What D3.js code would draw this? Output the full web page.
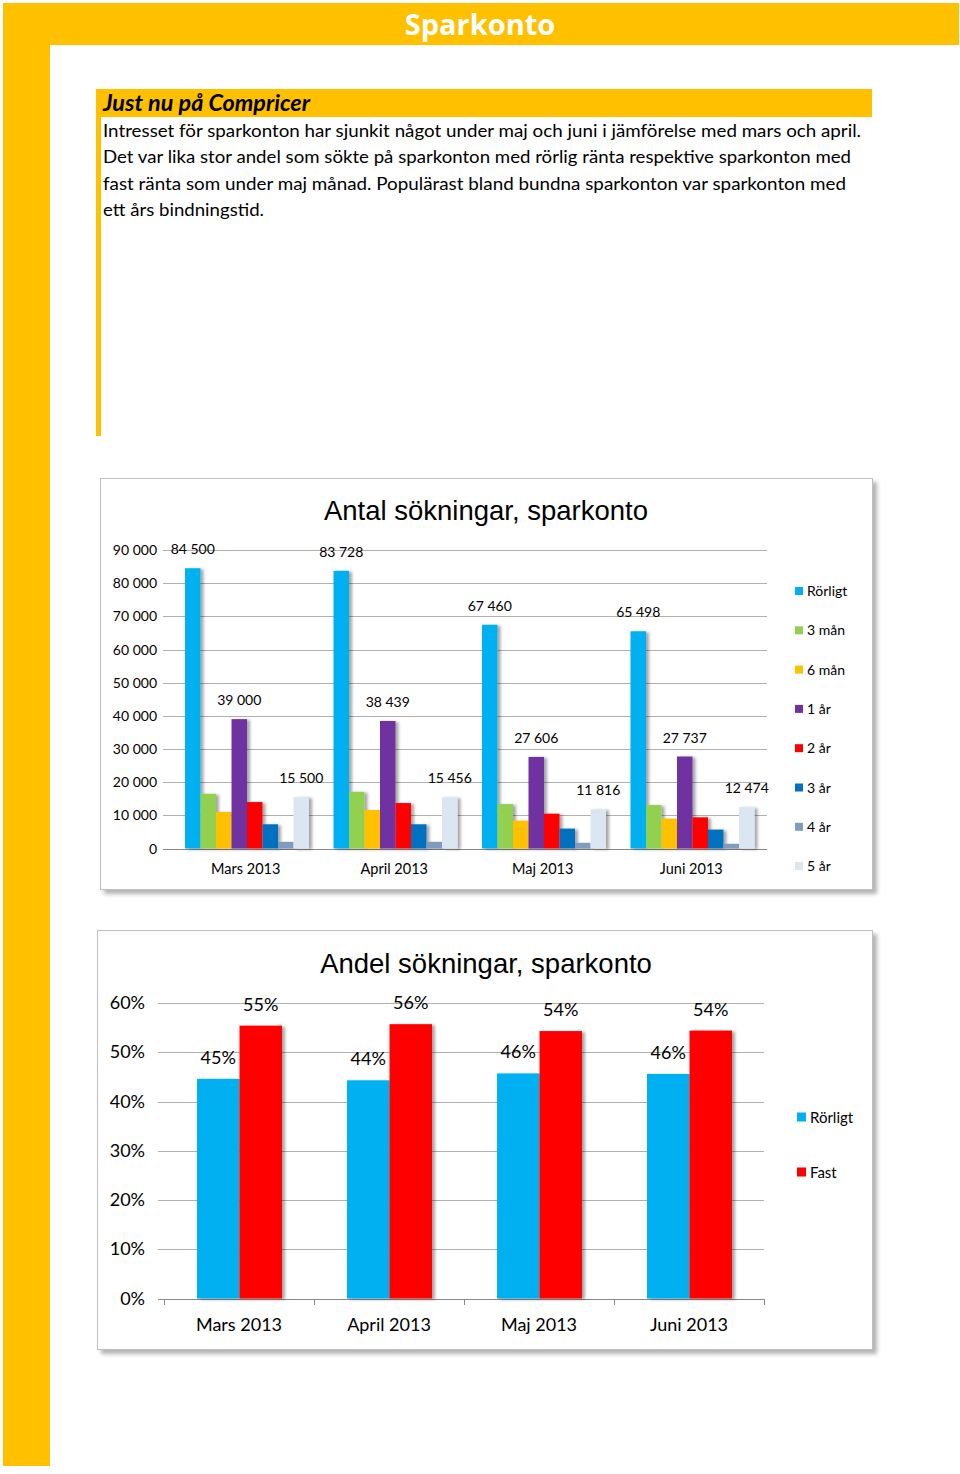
<!DOCTYPE html>
<html>
<head>
<meta charset="utf-8">
<script src="https://cdn.jsdelivr.net/npm/d3@7"></script>
<style>
  html, body { margin: 0; padding: 0; background: #fff; }
  svg { display: block; }
</style>
</head>
<body>
<svg id="page" width="960" height="1474"></svg>
<script>
// ---------- DATA ----------
const pageTitle = "Sparkonto";
const boxHeading = "Just nu på Compricer";
const boxLines = [
  "Intresset för sparkonton har sjunkit något under maj och juni i jämförelse med mars och april.",
  "Det var lika stor andel som sökte på sparkonton med rörlig ränta respektive sparkonton med",
  "fast ränta som under maj månad. Populärast bland bundna sparkonton var sparkonton med",
  "ett års bindningstid."
];

const months = ["Mars 2013", "April 2013", "Maj 2013", "Juni 2013"];

// Chart 1: Antal sökningar
const chart1Title = "Antal sökningar, sparkonto";
const periods = ["Rörligt", "3 mån", "6 mån", "1 år", "2 år", "3 år", "4 år", "5 år"];
const rorligt = [84500, 83728, 67460, 65498];
const man3    = [16500, 17100, 13400, 13100];
const man6    = [11000, 11600, 8400, 9000];
const ar1     = [39000, 38439, 27606, 27737];
const ar2     = [14000, 13700, 10500, 9400];
const ar3     = [7300, 7300, 6000, 5700];
const ar4     = [2000, 2000, 1700, 1400];
const ar5     = [15500, 15456, 11816, 12474];
const labeledPeriods = ["Rörligt", "1 år", "5 år"];
const yTicks1 = [0, 10000, 20000, 30000, 40000, 50000, 60000, 70000, 80000, 90000];

// Chart 2: Andel sökningar
const chart2Title = "Andel sökningar, sparkonto";
const shareSeries = ["Rörligt", "Fast"];
const shareRorligt = [0.446, 0.443, 0.457, 0.456];
const shareFast    = [0.554, 0.557, 0.543, 0.544];
const yTicks2 = [0, 0.1, 0.2, 0.3, 0.4, 0.5, 0.6];

// ---------- STYLE ----------
const YELLOW = "#FFC000";
const periodColors = ["#00B0F0", "#92D050", "#FFC000", "#7030A0", "#FF0000", "#0070C0", "#7F9CC0", "#DCE6F2"];
const shareColors = ["#00B0F0", "#FF0000"];
const bodyFont = "Lato, 'Open Sans', sans-serif";
const titleFont = "'Liberation Sans', Arial, sans-serif";

const svLocale = d3.formatLocale({decimal: ",", thousands: "\u00a0", grouping: [3], currency: ["", " kr"]});
const fmtNum = svLocale.format(",d");
const fmtPct = d3.format(".0%");

const svg = d3.select("#page");
const defs = svg.append("defs");
const bs = defs.append("filter").attr("id", "barShadow").attr("x", "-30%").attr("y", "-10%").attr("width", "180%").attr("height", "130%");
bs.append("feDropShadow").attr("dx", 3).attr("dy", 1).attr("stdDeviation", 1.6).attr("flood-color", "#000").attr("flood-opacity", 0.35);
const cs = defs.append("filter").attr("id", "boxShadow").attr("x", "-5%").attr("y", "-5%").attr("width", "110%").attr("height", "110%");
cs.append("feDropShadow").attr("dx", 4).attr("dy", 4).attr("stdDeviation", 2).attr("flood-color", "#000").attr("flood-opacity", 0.3);

// ---------- PAGE FRAME ----------
svg.append("rect").attr("x", 3).attr("y", 3).attr("width", 956).attr("height", 42).attr("fill", YELLOW);
svg.append("rect").attr("x", 3).attr("y", 3).attr("width", 47).attr("height", 1463).attr("fill", YELLOW);
svg.append("text").attr("x", 480).attr("y", 35).attr("text-anchor", "middle")
  .attr("font-family", "'Open Sans', Lato, sans-serif").attr("font-weight", "bold").attr("font-size", 29)
  .attr("fill", "#fff").text(pageTitle);

// Text box
svg.append("rect").attr("x", 97).attr("y", 89).attr("width", 775).attr("height", 28).attr("fill", YELLOW);
svg.append("rect").attr("x", 96).attr("y", 89).attr("width", 5).attr("height", 347).attr("fill", YELLOW);
svg.append("text").attr("x", 103).attr("y", 111)
  .attr("font-family", bodyFont).attr("font-weight", "bold").attr("font-style", "italic").attr("font-size", 22)
  .attr("textLength", 207).attr("lengthAdjust", "spacingAndGlyphs")
  .attr("fill", "#000").text(boxHeading);
const lineWidths = [758, 748, 743, 161];
svg.selectAll("text.body").data(boxLines).join("text").attr("class", "body")
  .attr("x", 103).attr("y", (d, i) => 137 + i * 26.3)
  .attr("font-family", bodyFont).attr("font-size", 17.5).attr("fill", "#000")
  .attr("textLength", (d, i) => lineWidths[i]).attr("lengthAdjust", "spacingAndGlyphs")
  .text(d => d);

// ---------- CHART 1 ----------
(function () {
  const g = svg.append("g");
  g.append("rect").attr("x", 100.5).attr("y", 478.5).attr("width", 772).attr("height", 411)
    .attr("fill", "#fff").attr("stroke", "#bfbfbf").attr("filter", "url(#boxShadow)");
  g.append("text").attr("x", 486).attr("y", 520).attr("text-anchor", "middle")
    .attr("font-family", titleFont).attr("font-size", 27.5).attr("fill", "#000").text(chart1Title);

  const seriesVals = [rorligt, man3, man6, ar1, ar2, ar3, ar4, ar5];
  const rows = months.map((m, i) => ({month: m, vals: periods.map((p, j) => ({period: p, value: seriesVals[j][i]}))}));

  const y = d3.scaleLinear().domain([0, 90000]).range([848.5, 550]);
  const x0 = d3.scaleBand().domain(months).range([172.5, 766.5]).padding(0);
  const x1 = d3.scaleBand().domain(periods).range([12.5, 136.5]).padding(0);

  g.selectAll("line.grid").data(yTicks1).join("line")
    .attr("x1", 163).attr("x2", 767).attr("y1", d => Math.round(y(d)) + 0.5).attr("y2", d => Math.round(y(d)) + 0.5)
    .attr("stroke", d => d === 0 ? "#888" : "#b0b0b0").attr("stroke-width", 1);
  g.selectAll("text.ytick").data(yTicks1).join("text")
    .attr("x", 157).attr("y", d => y(d) + 5).attr("text-anchor", "end")
    .attr("font-family", bodyFont).attr("font-size", 14).attr("fill", "#000")
    .text(d => fmtNum(d));

  const grp = g.selectAll("g.grp").data(rows).join("g").attr("transform", d => `translate(${x0(d.month)},0)`);
  grp.selectAll("rect").data(d => d.vals).join("rect")
    .attr("x", d => x1(d.period)).attr("width", x1.bandwidth())
    .attr("y", d => y(d.value)).attr("height", d => y(0) - y(d.value))
    .attr("fill", (d, i) => periodColors[i]).attr("filter", "url(#barShadow)");
  grp.selectAll("text").data(d => d.vals.filter(v => labeledPeriods.includes(v.period))).join("text")
    .attr("x", d => x1(d.period) + x1.bandwidth() / 2).attr("y", d => y(d.value) - 14)
    .attr("text-anchor", "middle").attr("font-family", bodyFont).attr("font-size", 14).attr("fill", "#000")
    .text(d => fmtNum(d.value));

  g.selectAll("text.xlab").data(months).join("text")
    .attr("x", d => x0(d) + x0.bandwidth() / 2 - 1).attr("y", 874).attr("text-anchor", "middle")
    .attr("font-family", bodyFont).attr("font-size", 14.5).attr("fill", "#000").text(d => d);

  const lg = g.selectAll("g.leg").data(periods).join("g").attr("transform", (d, i) => `translate(795,${591 + i * 39.3})`);
  lg.append("rect").attr("x", 0).attr("y", -4).attr("width", 8).attr("height", 8).attr("fill", (d, i) => periodColors[i]);
  lg.append("text").attr("x", 12).attr("y", 5).attr("font-family", bodyFont).attr("font-size", 14).attr("fill", "#000").text(d => d);
})();

// ---------- CHART 2 ----------
(function () {
  const g = svg.append("g");
  g.append("rect").attr("x", 97.5).attr("y", 930.5).attr("width", 775).attr("height", 419)
    .attr("fill", "#fff").attr("stroke", "#bfbfbf").attr("filter", "url(#boxShadow)");
  g.append("text").attr("x", 486).attr("y", 973).attr("text-anchor", "middle")
    .attr("font-family", titleFont).attr("font-size", 27.5).attr("fill", "#000").text(chart2Title);

  const seriesVals = [shareRorligt, shareFast];
  const rows = months.map((m, i) => ({month: m, vals: shareSeries.map((s, j) => ({series: s, value: seriesVals[j][i]}))}));

  const y = d3.scaleLinear().domain([0, 0.6]).range([1298.5, 1003]);
  const x0 = d3.scaleBand().domain(months).range([164, 764]).padding(0);
  const x1 = d3.scaleBand().domain(shareSeries).range([33, 118]).padding(0);

  g.selectAll("line.grid").data(yTicks2).join("line")
    .attr("x1", 158).attr("x2", 764).attr("y1", d => Math.round(y(d)) + 0.5).attr("y2", d => Math.round(y(d)) + 0.5)
    .attr("stroke", d => d === 0 ? "#888" : "#b0b0b0").attr("stroke-width", 1);
  const catTicks = months.map(m => x0(m)).concat([x0.range()[1]]);
  g.selectAll("line.ctick").data(catTicks).join("line")
    .attr("x1", d => Math.round(d) + 0.5).attr("x2", d => Math.round(d) + 0.5)
    .attr("y1", Math.round(y(0))).attr("y2", Math.round(y(0)) + 6).attr("stroke", "#888");
  g.selectAll("text.ytick").data(yTicks2).join("text")
    .attr("x", 145).attr("y", d => y(d) + 6).attr("text-anchor", "end")
    .attr("font-family", bodyFont).attr("font-size", 18).attr("fill", "#000")
    .text(d => fmtPct(d));

  const grp = g.selectAll("g.grp").data(rows).join("g").attr("transform", d => `translate(${x0(d.month)},0)`);
  grp.selectAll("rect").data(d => d.vals).join("rect")
    .attr("x", d => x1(d.series)).attr("width", x1.bandwidth())
    .attr("y", d => y(d.value)).attr("height", d => y(0) - y(d.value))
    .attr("fill", (d, i) => shareColors[i]).attr("filter", "url(#barShadow)");
  grp.selectAll("text").data(d => d.vals).join("text")
    .attr("x", d => x1(d.series) + x1.bandwidth() / 2).attr("y", d => y(d.value) - 15)
    .attr("text-anchor", "middle").attr("font-family", bodyFont).attr("font-size", 18).attr("fill", "#000")
    .text(d => fmtPct(d.value));

  g.selectAll("text.xlab").data(months).join("text")
    .attr("x", d => x0(d) + x0.bandwidth() / 2).attr("y", 1331).attr("text-anchor", "middle")
    .attr("font-family", bodyFont).attr("font-size", 18).attr("fill", "#000").text(d => d);

  const lg = g.selectAll("g.leg").data(shareSeries).join("g").attr("transform", (d, i) => `translate(797,${1117 + i * 55})`);
  lg.append("rect").attr("x", 0).attr("y", -4.5).attr("width", 9).attr("height", 9).attr("fill", (d, i) => shareColors[i]);
  lg.append("text").attr("x", 13).attr("y", 5.5).attr("font-family", bodyFont).attr("font-size", 15).attr("fill", "#000").text(d => d);
})();
</script>
</body>
</html>
